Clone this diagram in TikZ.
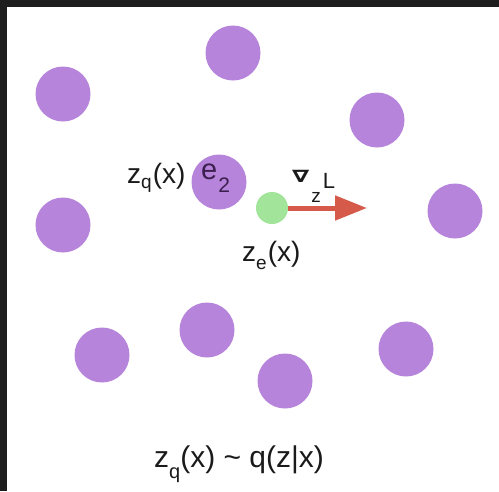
\documentclass[tikz,border=0pt]{standalone}
\usepackage{fontspec}
\usepackage{graphicx}
\setmainfont{Liberation Sans}
\newfontfamily\nablafont{DejaVu Sans Bold}
\usetikzlibrary{arrows.meta}
\definecolor{dotpurple}{HTML}{B784DB}
\definecolor{dotgreen}{HTML}{A3E49B}
\definecolor{gradred}{HTML}{D65A4A}
\definecolor{frame}{HTML}{1E1E1E}
\definecolor{labelgray}{HTML}{1A1A1A}
\definecolor{etext}{HTML}{3B1F4F}
\newcommand{\fs}[1]{\fontsize{#1}{#1}\selectfont}
\begin{document}
\begin{tikzpicture}[x=1pt,y=-1pt,
  dot/.style={circle,fill=dotpurple,minimum size=55pt,inner sep=0pt},
  encdot/.style={circle,fill=dotgreen,minimum size=32pt,inner sep=0pt},
  lbl/.style={anchor=base west,inner sep=0pt,text=labelgray},
  gradarrow/.style={draw=gradred,line width=5pt,-{Triangle[length=32pt,width=24pt]}}]
\fill[white] (0,0) rectangle (499,491);
\fill[frame] (0,0) rectangle (499,7);
\fill[frame] (0,0) rectangle (7,491);
\useasboundingbox (0,0) rectangle (499,491);
% codebook vectors
\node[dot] (c1) at (63,94) {};
\node[dot] (c2) at (233,53) {};
\node[dot] (c3) at (377,120) {};
\node[dot] (c4) at (63,225) {};
\node[dot] (e2) at (219,182) {};
\node[dot] (c5) at (455,211) {};
\node[dot] (c6) at (102,355) {};
\node[dot] (c7) at (207,330) {};
\node[dot] (c8) at (285,381) {};
\node[dot] (c9) at (406,349) {};
% encoder output
\node[encdot] (ze) at (272,208) {};
\coordinate (tip) at (367,208);
\draw[gradarrow] (ze.east) -- (tip);
% labels
\node[lbl] (zql) at (127,183) {\fs{28}z\raisebox{-5pt}{\fs{19}q}\hspace{1pt}(x)};
\node[lbl,text=etext] (e2l) at (201,179) {\fs{29}e\hspace{1pt}\raisebox{-13pt}{\fs{21}2}};
\node[lbl] (gradl) at (292,188) {\raisebox{6pt}{\scalebox{1.45}[1]{\nablafont\fs{17}∇}}\hspace{2pt}\raisebox{-14pt}{\fs{19}z}\hspace{2pt}\fs{22}L};
\node[lbl] (zel) at (242,261) {\fs{28}z\raisebox{-8pt}{\fs{19}e}\hspace{1pt}(x)};
\node[lbl] (post) at (154,467) {\fs{30}z\raisebox{-11pt}{\fs{20}q}(x) \textasciitilde\ q(z|x)};
\end{tikzpicture}
\end{document}
